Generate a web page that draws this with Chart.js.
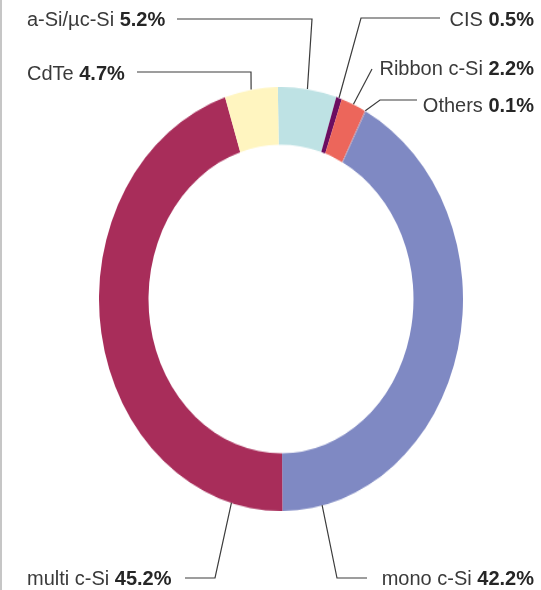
<!DOCTYPE html>
<html>
<head>
<meta charset="utf-8">
<script src="https://cdn.jsdelivr.net/npm/chart.js@4/dist/chart.umd.min.js"></script>
<style>
  html, body { margin: 0; padding: 0; background: #fff; }
  #stage { position: relative; width: 541px; height: 590px; overflow: hidden; }
  #edge { position: absolute; left: 0; top: 0; width: 2px; height: 590px; background: #c6c6c6; }
  #ringBox { position: absolute; transform-origin: 0 0; }
  #labels { position: absolute; left: 0; top: 0; pointer-events: none; }
</style>
</head>
<body>
<div id="stage">
  <div id="edge"></div>
  <div id="ringBox"><canvas id="ring"></canvas></div>
  <canvas id="labels" width="541" height="590"></canvas>
</div>
<script>
// Technology shares of PV production, clockwise from the top
const categories = ['a-Si/\u00b5c-Si', 'CIS', 'Ribbon c-Si', 'Others', 'mono c-Si', 'multi c-Si', 'CdTe'];
const shares = [5.2, 0.5, 2.2, 0.1, 42.2, 45.2, 4.7];
const sliceColors = ['#bee2e4', '#6c0d60', '#ec665b', '#b98aa0', '#7f89c3', '#a82d5a', '#fff5c0'];

// Ring geometry on the page (the ring is drawn as an ellipse)
const ring = { cx: 281, cy: 298.7, rx: 182, ry: 212 };
const scaleY = ring.ry / ring.rx;

// Callout layout: text anchor, leader-line elbow points, and where on the arc the leader lands
const callouts = [
  { align: 'left',  x: 27,  y: 26,  path: [[177, 19], [312, 19]],  at: 0.5 },   // a-Si/µc-Si
  { align: 'right', x: 534, y: 26,  path: [[440, 18], [361, 18]],  at: 0.5 },   // CIS
  { align: 'right', x: 534, y: 75,  path: [[372, 69]],             at: 0.5 },   // Ribbon c-Si
  { align: 'right', x: 534, y: 112, path: [[417, 100], [380, 100]], at: 0.5 },  // Others
  { align: 'right', x: 534, y: 585, path: [[367, 578], [337, 578]], at: 0.917 },// mono c-Si
  { align: 'left',  x: 27,  y: 585, path: [[185, 578], [215, 578]], at: 0.10 }, // multi c-Si
  { align: 'left',  x: 27,  y: 80,  path: [[137, 72], [251, 72]],  at: 0.5 }    // CdTe
];

const box = document.getElementById('ringBox');
box.style.left = (ring.cx - ring.rx) + 'px';
box.style.top = (ring.cy - ring.ry) + 'px';
box.style.width = (2 * ring.rx) + 'px';
box.style.height = (2 * ring.rx) + 'px';
box.style.transform = 'scaleY(' + scaleY + ')';

const nameFont = '20px "Liberation Sans", Arial, sans-serif';
const valueFont = 'bold 20px "Liberation Sans", Arial, sans-serif';

const calloutPlugin = {
  id: 'callouts',
  afterDraw(chart) {
    const cv = document.getElementById('labels');
    const ctx = cv.getContext('2d');
    ctx.clearRect(0, 0, cv.width, cv.height);
    const arcs = chart.getDatasetMeta(0).data;
    const left = ring.cx - ring.rx;
    const top = ring.cy - ring.ry;
    arcs.forEach((arc, i) => {
      const c = callouts[i];
      const p = arc.getProps(['x', 'y', 'startAngle', 'endAngle', 'outerRadius'], true);
      const a = p.startAngle + (p.endAngle - p.startAngle) * c.at;
      const ax = left + p.x + Math.cos(a) * p.outerRadius;
      const ay = top + (p.y + Math.sin(a) * p.outerRadius) * scaleY;

      // leader line
      ctx.strokeStyle = '#3c3c3c';
      ctx.lineWidth = 1.2;
      ctx.beginPath();
      ctx.moveTo(c.path[0][0], c.path[0][1]);
      for (let k = 1; k < c.path.length; k++) ctx.lineTo(c.path[k][0], c.path[k][1]);
      ctx.lineTo(ax, ay);
      ctx.stroke();

      // label: name in regular weight, value in bold
      const name = categories[i] + ' ';
      const value = shares[i].toFixed(1) + '%';
      ctx.textBaseline = 'alphabetic';
      ctx.textAlign = 'left';
      ctx.font = nameFont;
      const wName = ctx.measureText(name).width;
      ctx.font = valueFont;
      const wValue = ctx.measureText(value).width;
      const x0 = c.align === 'left' ? c.x : c.x - wName - wValue;
      ctx.font = nameFont;
      ctx.fillStyle = '#3a3a3a';
      ctx.fillText(name, x0, c.y);
      ctx.font = valueFont;
      ctx.fillStyle = '#262626';
      ctx.fillText(value, x0 + wName, c.y);
    });
  }
};

new Chart(document.getElementById('ring'), {
  type: 'doughnut',
  data: {
    labels: categories,
    datasets: [{
      data: shares,
      backgroundColor: sliceColors,
      borderWidth: 0,
      hoverOffset: 0,
      offset: 0
    }]
  },
  options: {
    responsive: true,
    maintainAspectRatio: false,
    animation: false,
    events: [],
    rotation: -1,
    cutout: '72.8%',
    layout: { padding: 0 },
    plugins: {
      legend: { display: false },
      tooltip: { enabled: false }
    }
  },
  plugins: [calloutPlugin]
});
</script>
</body>
</html>
